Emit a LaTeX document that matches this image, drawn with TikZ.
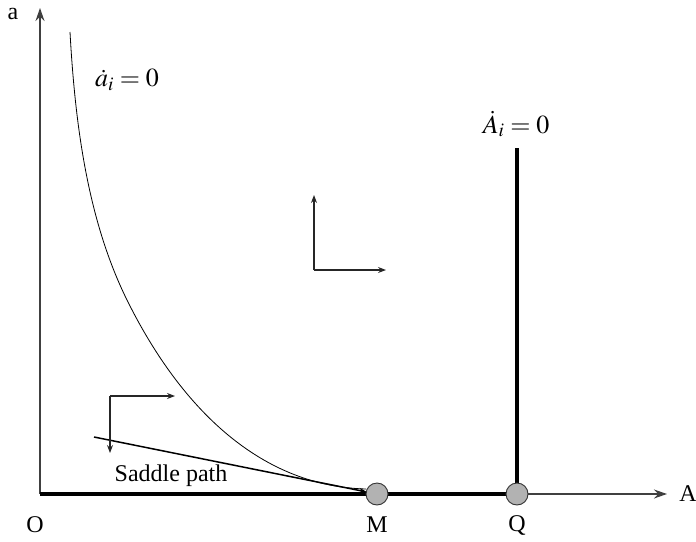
\documentclass[tikz,border=0pt]{standalone}
\usepackage{mathptmx}
\usepackage{fontspec}
\setmainfont{Liberation Serif}
\usetikzlibrary{arrows.meta}
\begin{document}
\begin{tikzpicture}[x=1pt,y=-1pt,
  lbl/.style={font=\fontsize{24}{28}\selectfont, inner sep=0pt},
  mlbl/.style={font=\fontsize{26}{30}\selectfont, inner sep=0pt},
  axis/.style={line width=1.2pt, draw=black!75, -{Stealth[length=13pt,width=9pt]}},
  thick line/.style={line width=3.2pt},
  phase/.style={line width=1.1pt, draw=black!85, -{Stealth[length=8pt,width=6pt]}},
  eq/.style={circle, draw=black!80, fill=black!30, line width=0.9pt, minimum size=22pt, inner sep=0pt}]
\useasboundingbox (0,0) rectangle (696,541);
\coordinate (O) at (40,494);
\coordinate (ytip) at (40,8);
\coordinate (xtip) at (667,494);
\coordinate (Qtop) at (517,148);
% axes
\draw[axis] (O) -- (ytip);
\draw[axis] (O) -- (xtip);
% thick line segments
\draw[thick line] (O) -- (517,494);
\draw[thick line] (517,494) -- (Qtop);
% curve a_i dot = 0
\coordinate (C0) at (70,32);
\coordinate (C1) at (127,300);
\coordinate (C2) at (366,489);
\draw[line width=0.8pt] (C0) .. controls (75,122) and (87,219) .. (C1)
  .. controls (177,401) and (255,486) .. (C2);
% saddle path
\coordinate (S0) at (94,437);
\coordinate (S1) at (367,492);
\draw[line width=1.5pt, -{Stealth[length=8pt,width=5pt]}] (S0) -- (S1);
% equilibrium points
\node[eq] (M) at (377,494) {};
\node[eq] (Q) at (517,494) {};
% phase arrows
\coordinate (P1) at (110,396);
\coordinate (P1d) at (110,453);
\coordinate (P1r) at (175,396);
\draw[phase] (P1) -- (P1d);
\draw[phase] (P1) -- (P1r);
\coordinate (P2) at (314,270);
\coordinate (P2u) at (314,195);
\coordinate (P2r) at (386,270);
\draw[phase] (P2) -- (P2u);
\draw[phase] (P2) -- (P2r);
% labels
\node[lbl] (la) at (13,14) {a};
\node[lbl] (lA) at (688,494) {A};
\node[lbl] (lO) at (35,525) {O};
\node[lbl] (lM) at (377,525) {M};
\node[lbl] (lQ) at (517,525) {Q};
\node[lbl] (lsp) at (171,476) {Saddle path};
\node[mlbl] (la0) at (127,80) {$\dot{a}_i = 0$};
\node[mlbl] (lA0) at (516,124) {$\dot{A}_i = 0$};
\end{tikzpicture}
\end{document}
